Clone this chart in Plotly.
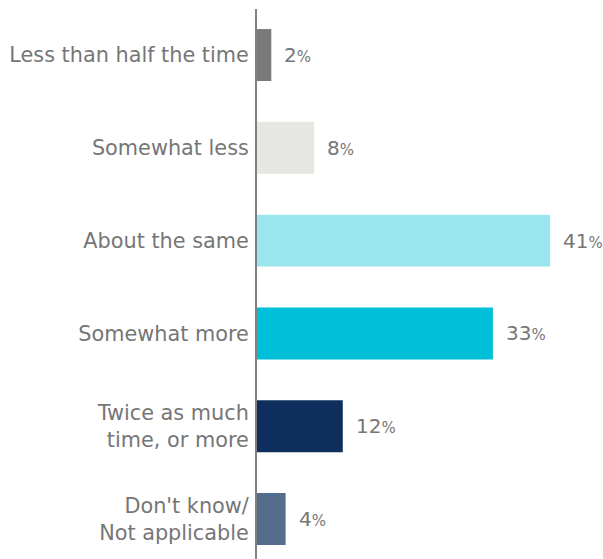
import plotly.graph_objects as go

# Survey responses, listed top to bottom
categories = [
    "Less than half the time",
    "Somewhat less",
    "About the same",
    "Somewhat more",
    "Twice as much<br>time, or more",
    "Don't know/<br>Not applicable",
]
values = [2, 8, 41, 33, 12, 4]
colors = ["#7a7b79", "#e6e7e2", "#9ae6ee", "#00bfd8", "#0e2f5e", "#536d8c"]

text_color = "#767676"
font_family = "'DejaVu Sans', 'Open Sans', sans-serif"

fig = go.Figure(
    go.Bar(
        x=values,
        y=categories,
        orientation="h",
        marker=dict(color=colors, line=dict(width=0)),
        width=0.56,
        hoverinfo="skip",
    )
)

# Value labels with a smaller percent sign
for cat, v in zip(categories, values):
    fig.add_annotation(
        x=v,
        y=cat,
        xref="x",
        yref="y",
        text=f"{v}<span style='font-size:15px'>%</span>",
        showarrow=False,
        xanchor="left",
        yanchor="middle",
        xshift=11,
        font=dict(family=font_family, size=20, color=text_color),
    )

fig.update_layout(
    width=603,
    height=559,
    margin=dict(l=257, r=0, t=9, b=0),
    paper_bgcolor="white",
    plot_bgcolor="white",
    showlegend=False,
    font=dict(family=font_family, color=text_color),
)

fig.update_xaxes(
    range=[0, 48.4],
    visible=False,
    showgrid=False,
    zeroline=False,
)

fig.update_yaxes(
    type="category",
    range=[5.431, -0.496],
    showgrid=False,
    zeroline=False,
    showline=True,
    linecolor="#808080",
    linewidth=2,
    ticks="",
    ticklabelstandoff=2,
    tickfont=dict(family=font_family, size=20.8, color=text_color),
)

fig.write_html("out.html")
